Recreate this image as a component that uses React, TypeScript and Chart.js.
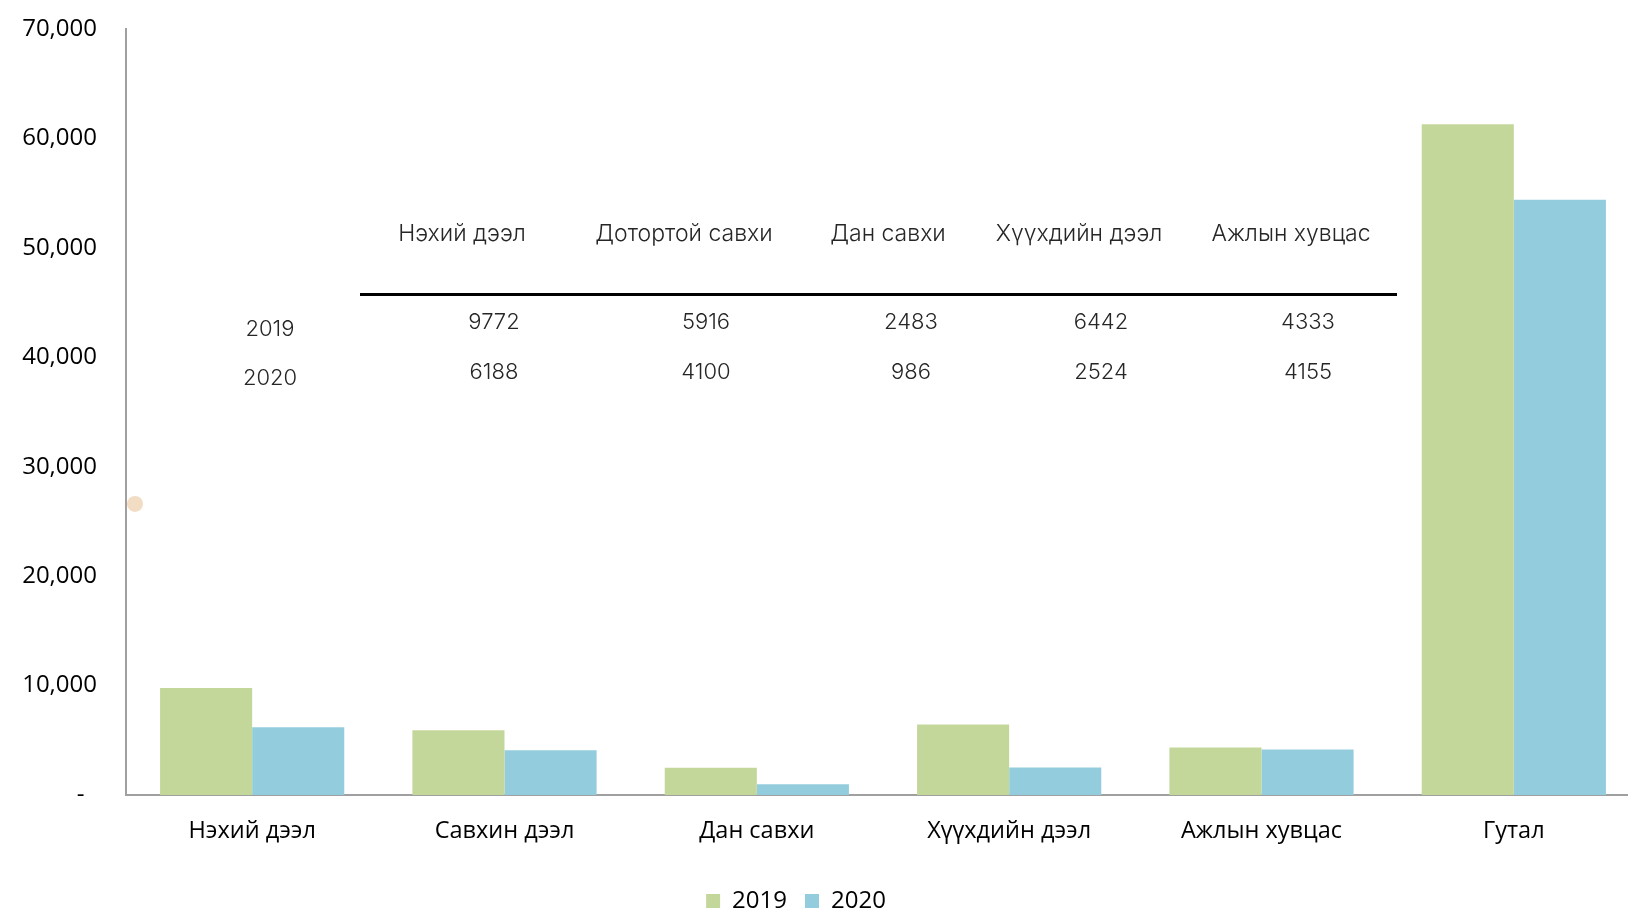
import React, { useEffect, useRef } from "react";
import { Chart, registerables } from "chart.js";

Chart.register(...registerables);

const categories = ["Нэхий дээл", "Савхин дээл", "Дан савхи", "Хүүхдийн дээл", "Ажлын хувцас", "Гутал"];
const seriesLabels = ["2019", "2020"];
const values2019 = [9772, 5916, 2483, 6442, 4333, 61300];
const values2020 = [6188, 4100, 986, 2524, 4155, 54400];
const yMin = 0;
const yMax = 70000;
const yStep = 10000;

const tableHeaders = ["Нэхий дээл", "Дотортой савхи", "Дан савхи", "Хүүхдийн дээл", "Ажлын хувцас"];
const table2019 = [9772, 5916, 2483, 6442, 4333];
const table2020 = [6188, 4100, 986, 2524, 4155];
const markerValue = 26600;

const colors = ["#c4d79b", "#93cddd"];
const FONT = "'Open Sans', 'Noto Sans', sans-serif";
const TABLE_FONT = "Inter, 'Open Sans', sans-serif";

// overlay layout (pixel positions of the embedded table)
const headerX = [462, 684, 888, 1079, 1291];
const valueX = [494, 706, 911, 1101, 1308];

const markerPlugin = {
  id: "marker",
  afterLayout(chart: any) {
    if (chart.legend) {
      chart.legend.left -= 24;
      chart.legend.right -= 24;
    }
  },
  afterDatasetsDraw(chart: any) {
    const { ctx, chartArea, scales } = chart;
    const y = scales.y.getPixelForValue(markerValue);
    ctx.save();
    ctx.beginPath();
    ctx.arc(chartArea.left + 9, y, 8, 0, Math.PI * 2);
    ctx.fillStyle = "#f2dcc3";
    ctx.fill();
    ctx.restore();
  },
};

export default function App() {
  const ref = useRef<HTMLCanvasElement>(null);
  useEffect(() => {
    const chart = new Chart(ref.current!, {
      type: "bar",
      data: {
        labels: categories,
        datasets: [
          { label: seriesLabels[0], data: values2019, backgroundColor: colors[0], borderWidth: 0 },
          { label: seriesLabels[1], data: values2020, backgroundColor: colors[1], borderWidth: 0 },
        ],
      },
      options: {
        animation: false,
        responsive: true,
        maintainAspectRatio: false,
        layout: { padding: { top: 29, left: 0, right: 0, bottom: -12 } },
        datasets: { bar: { categoryPercentage: 0.73, barPercentage: 1 } },
        scales: {
          x: {
            grid: { display: false, drawTicks: false },
            border: { display: true, color: "#a0a0a0", width: 2 },
            ticks: { color: "#000", font: { family: FONT, size: 23.5 }, padding: 22, maxRotation: 0 },
            afterFit(scale: any) {
              scale.height = 76;
            },
          },
          y: {
            min: yMin,
            max: yMax,
            grid: { display: false, drawTicks: false },
            border: { display: true, color: "#a0a0a0", width: 2 },
            ticks: {
              stepSize: yStep,
              color: "#000",
              font: { family: FONT, size: 24 },
              padding: 29,
              callback: (v: any) => (Number(v) === 0 ? "-  " : Number(v).toLocaleString("en-US")),
            },
            afterFit(scale: any) {
              scale.width = 126;
              scale.paddingTop = 0;
              scale.paddingBottom = 0;
            },
          },
        },
        plugins: {
          legend: {
            position: "bottom",
            labels: {
              boxWidth: 14,
              boxHeight: 14,
              padding: 18,
              color: "#000",
              font: { family: FONT, size: 24 },
            },
          },
          tooltip: { enabled: false },
        },
      },
      plugins: [markerPlugin],
    } as any);
    return () => chart.destroy();
  }, []);

  const tableFont: React.CSSProperties = {
    position: "absolute",
    transform: "translate(-50%, -50%)",
    whiteSpace: "nowrap",
    fontFamily: TABLE_FONT,
    fontWeight: 300,
    color: "#262626",
    lineHeight: 1,
  };

  return (
    <div style={{ position: "absolute", left: 0, top: 0, width: 1628, height: 911, overflow: "hidden", background: "#fff" }}>
      <div style={{ position: "absolute", left: 0, top: 0, width: 1640, height: 911 }}>
        <canvas ref={ref} />
      </div>
      {tableHeaders.map((h, i) => (
        <span key={"h" + i} style={{ ...tableFont, fontSize: 23, left: headerX[i], top: 233 }}>{h}</span>
      ))}
      <div style={{ position: "absolute", left: 360, top: 293, width: 1037, height: 3, background: "#000" }} />
      <span style={{ ...tableFont, fontSize: 22, left: 270, top: 328 }}>{seriesLabels[0]}</span>
      <span style={{ ...tableFont, fontSize: 22, left: 270, top: 377 }}>{seriesLabels[1]}</span>
      {table2019.map((v, i) => (
        <span key={"a" + i} style={{ ...tableFont, fontSize: 22, left: valueX[i], top: 321 }}>{v}</span>
      ))}
      {table2020.map((v, i) => (
        <span key={"b" + i} style={{ ...tableFont, fontSize: 22, left: valueX[i], top: 371 }}>{v}</span>
      ))}
    </div>
  );
}
